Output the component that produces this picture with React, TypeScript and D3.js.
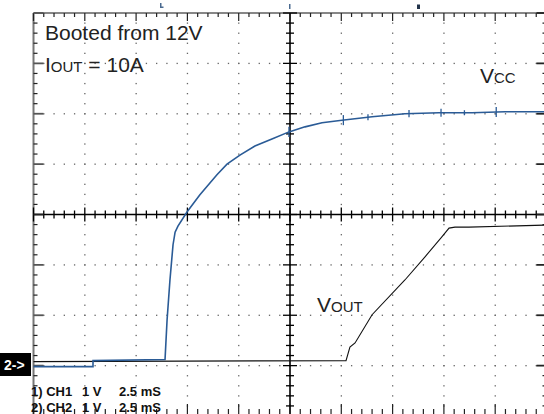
import React from "react";
import * as d3 from "d3";

// Time axis: ms (2.5 ms/div, 10 div). Voltage axis: volts (1 V/div), CH2 ground = 0 V.
const vccT = [0, 2.9, 2.9, 6.41, 6.51, 6.65, 6.8, 6.9, 7.04, 7.48, 8.11, 8.94, 9.43, 10.06, 10.79, 11.62, 12.45, 13.23, 14.06, 15.03, 16.5, 18.1, 19.76, 21.37, 22.98, 25];
const vccV = [-0.02, -0.02, 0.1, 0.12, 0.91, 1.7, 2.4, 2.65, 2.77, 3.05, 3.39, 3.79, 4.0, 4.18, 4.36, 4.5, 4.64, 4.74, 4.82, 4.87, 4.94, 5.0, 5.02, 5.02, 5.04, 5.04];
const vccGlitchT = [12.45, 15.1, 16.3, 18.3, 19.86, 21.0, 22.55];
const vccGlitchV = [0.1, 0.1, 0.06, 0.07, 0.08, 0.05, 0.1];

const voutT = [0, 15.23, 15.42, 15.67, 16.5, 18.1, 19.08, 19.91, 20.25, 20.54, 21.22, 25];
const voutV = [0.08, 0.1, 0.37, 0.45, 1.01, 1.7, 2.16, 2.56, 2.73, 2.75, 2.75, 2.79];

const channelLabels = ["1) CH1", "2) CH2"];
const voltsPerDiv = ["1 V", "1 V"];
const timePerDiv = ["2.5 mS", "2.5 mS"];

const T_MIN = 0, T_MAX = 25, V_MIN = -1, V_MAX = 7;

export default function App() {
  const x = d3.scaleLinear().domain([T_MIN, T_MAX]).range([33.5, 546.5]);
  const y = d3.scaleLinear().domain([V_MIN, V_MAX]).range([416, 13]);

  const minorT = d3.range(0, 51).map((i) => i * 0.5);
  const minorV = d3.range(0, 41).map((j) => V_MIN + j * 0.2);
  const majorT = d3.range(0, 11).map((k) => k * 2.5);
  const majorV = d3.range(0, 9).map((k) => V_MIN + k);
  const isMajorT = (t: number) => Math.abs(t / 2.5 - Math.round(t / 2.5)) < 1e-6;
  const isMajorV = (v: number) => Math.abs(v - Math.round(v)) < 1e-6;
  const cT = 12.5, cV = 3;

  const line = d3.line<[number, number]>().x((d) => x(d[0])).y((d) => y(d[1]));
  const vccPts = vccT.map((t, i) => [t, vccV[i]] as [number, number]);
  const voutPts = voutT.map((t, i) => [t, voutV[i]] as [number, number]);
  const vccAt = (t: number) => {
    const i = d3.bisectLeft(vccT, t);
    if (i <= 0) return vccV[0];
    if (i >= vccT.length) return vccV[vccV.length - 1];
    const t0 = vccT[i - 1], t1 = vccT[i];
    return vccV[i - 1] + ((vccV[i] - vccV[i - 1]) * (t - t0)) / (t1 - t0 || 1);
  };

  const dots: JSX.Element[] = [];
  majorT.slice(1, -1).forEach((t) => {
    if (t === cT) return;
    minorV.slice(1, -1).forEach((v, j) => {
      dots.push(<rect key={`dv${t}-${j}`} x={x(t) - 0.6} y={y(v) - 0.6} width={1.3} height={1.3} fill="#666" />);
    });
  });
  majorV.slice(1, -1).forEach((v) => {
    if (v === cV) return;
    minorT.slice(1, -1).forEach((t, j) => {
      dots.push(<rect key={`dh${v}-${j}`} x={x(t) - 0.6} y={y(v) - 0.6} width={1.3} height={1.3} fill="#666" />);
    });
  });

  const ticks: JSX.Element[] = [];
  minorT.forEach((t, i) => {
    const L = isMajorT(t) ? 7 : 4;
    ticks.push(<line key={`ct${i}`} x1={x(t)} x2={x(t)} y1={y(cV) - L} y2={y(cV) + L} stroke="#000" strokeWidth={1.3} />);
    const Lt = isMajorT(t) ? 8 : 4;
    ticks.push(<line key={`tt${i}`} x1={x(t)} x2={x(t)} y1={y(V_MAX)} y2={y(V_MAX) + Lt} stroke="#222" strokeWidth={1.2} />);
    const Lb = isMajorT(t) ? 12 : 7;
    ticks.push(<line key={`bt${i}`} x1={x(t)} x2={x(t)} y1={y(V_MIN)} y2={y(V_MIN) - Lb} stroke="#222" strokeWidth={1.2} />);
  });
  minorV.forEach((v, i) => {
    const L = isMajorV(v) ? 7 : 4;
    ticks.push(<line key={`cv${i}`} x1={x(cT) - L} x2={x(cT) + L} y1={y(v)} y2={y(v)} stroke="#000" strokeWidth={1.3} />);
    const Ll = isMajorV(v) ? 10 : 4;
    ticks.push(<line key={`lt${i}`} x1={x(T_MIN)} x2={x(T_MIN) + Ll} y1={y(v)} y2={y(v)} stroke={isMajorV(v) && v !== cV ? "#555" : "#222"} strokeWidth={isMajorV(v) ? 1.8 : 1.2} />);
    ticks.push(<line key={`rt${i}`} x1={x(T_MAX)} x2={x(T_MAX) - Ll} y1={y(v)} y2={y(v)} stroke="#222" strokeWidth={isMajorV(v) ? 1.8 : 1.2} />);
  });

  const font = "'Liberation Sans', Arial, Helvetica, sans-serif";

  return (
    <svg width={544} height={414} style={{ position: "absolute", left: 0, top: 0 }} fontFamily={font}>
      <rect x={0} y={0} width={544} height={414} fill="#fff" />
      {dots}
      <line x1={x(T_MIN)} x2={x(T_MAX)} y1={y(V_MAX)} y2={y(V_MAX)} stroke="#111" strokeWidth={1.2} />
      <line x1={x(T_MIN)} x2={x(T_MIN)} y1={y(V_MAX)} y2={y(V_MIN)} stroke="#777" strokeWidth={2} />
      <line x1={x(T_MAX)} x2={x(T_MAX)} y1={y(V_MAX)} y2={y(V_MIN)} stroke="#222" strokeWidth={1.5} />
      <line x1={x(T_MIN)} x2={x(T_MAX)} y1={y(V_MIN)} y2={y(V_MIN)} stroke="#222" strokeWidth={1.5} />
      <line x1={x(T_MIN)} x2={x(T_MAX)} y1={y(cV)} y2={y(cV)} stroke="#000" strokeWidth={1.6} />
      <line x1={x(cT)} x2={x(cT)} y1={y(V_MAX)} y2={y(V_MIN)} stroke="#000" strokeWidth={1.6} />
      {ticks}
      <rect x={160} y={3} width={1.5} height={5} fill="#4a6a90" />
      <rect x={160} y={6.5} width={3.5} height={1.5} fill="#4a6a90" />
      <rect x={289} y={4} width={1.5} height={5} fill="#4a6a90" />
      <rect x={417} y={4.5} width={3} height={4.5} fill="#22334a" />
      <path d={line(voutPts) || ""} fill="none" stroke="#111" strokeWidth={1.1} />
      <path d={line(vccPts) || ""} fill="none" stroke="#2a5b96" strokeWidth={1.6} />
      {vccGlitchT.map((t, i) => (
        <line key={`g${i}`} x1={x(t)} x2={x(t)} y1={y(vccAt(t) + vccGlitchV[i])} y2={y(vccAt(t) - vccGlitchV[i])} stroke="#2a5b96" strokeWidth={1.3} />
      ))}
      <text x={45} y={40} fontSize={21} fill="#222">Booted from 12V</text>
      <text x={45} y={72} fontSize={21} fill="#222">
        I<tspan fontSize={15}>OUT</tspan> = 10A
      </text>
      <text x={480} y={83} fontSize={21} fill="#222">
        V<tspan fontSize={15}>CC</tspan>
      </text>
      <text x={317} y={312} fontSize={21} fill="#222">
        V<tspan fontSize={15}>OUT</tspan>
      </text>
      <rect x={0} y={353} width={31} height={23} fill="#000" />
      <text x={4} y={370} fontSize={14} fontWeight="bold" fill="#fff">2-&gt;</text>
      {channelLabels.map((c, i) => (
        <g key={c} fontSize={13} fontWeight="bold" fill="#111">
          <text x={31} y={396 + i * 16}>{c}</text>
          <text x={82} y={396 + i * 16}>{voltsPerDiv[i]}</text>
          <text x={119} y={396 + i * 16}>{timePerDiv[i]}</text>
        </g>
      ))}
    </svg>
  );
}
